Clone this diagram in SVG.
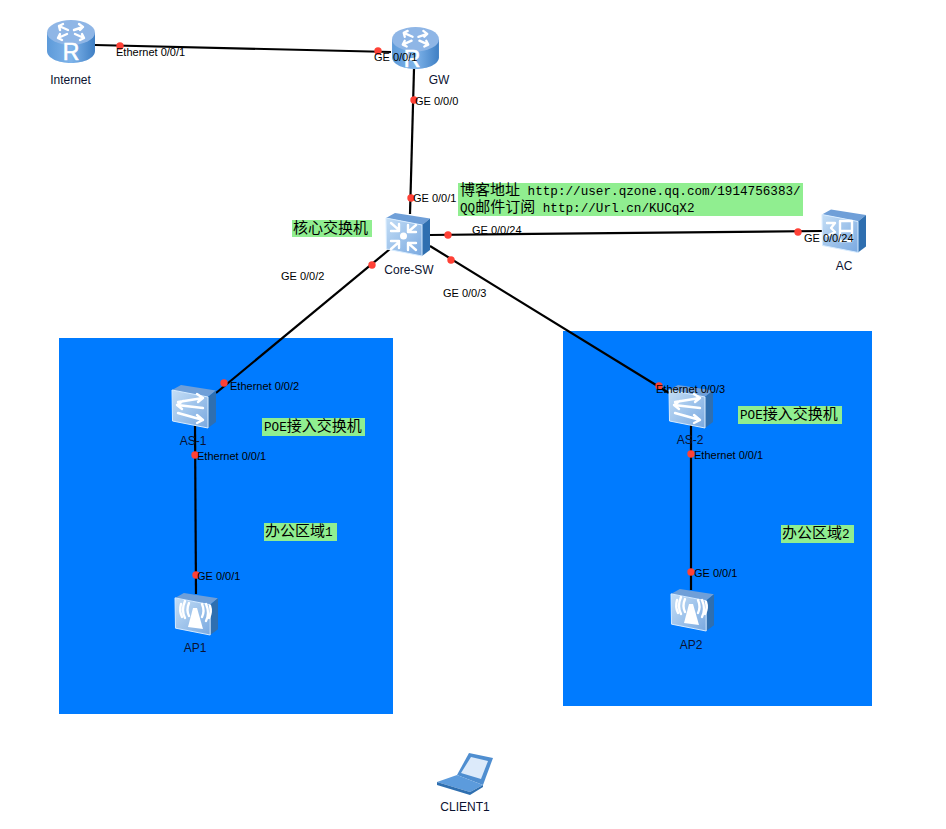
<svg xmlns="http://www.w3.org/2000/svg" width="946" height="829" viewBox="0 0 946 829">
<style>
.area{fill:#007bff}
.note{fill:#90ee90}
.lnk{stroke:#000;stroke-width:2.2;fill:none}
.dot{fill:#ff4136}
.port{font:11px "Liberation Sans",Arial,sans-serif;fill:#000}
.name{font:12px "Liberation Sans",Arial,sans-serif;fill:#0a1230;text-anchor:middle}
.cn{font:15px "Noto Sans CJK SC",sans-serif;fill:#000}
.mono{font:12.65px "Liberation Mono","Noto Sans CJK SC",monospace;fill:#000}
.gl{fill:none;stroke:#fff;stroke-width:2.4;stroke-linecap:round;stroke-linejoin:round}
.rt{font:23px "Liberation Sans",Arial,sans-serif;fill:#fff;text-anchor:middle;stroke:#fff;stroke-width:.6}
</style>
<defs>
<linearGradient id="cyl" x1="0" x2="1" y1="0" y2="0"><stop offset="0" stop-color="#5d9ad9"/><stop offset="0.5" stop-color="#7fb4ea"/><stop offset="1" stop-color="#3f7fc4"/></linearGradient>
<linearGradient id="face" x1="0" x2="1" y1="0" y2="1"><stop offset="0" stop-color="#c4def6"/><stop offset="1" stop-color="#7aa9e0"/></linearGradient>
<symbol id="router" viewBox="0 0 48 44" overflow="visible">
<path d="M0 13V31C0 38 11 43 24 43S48 38 48 31V13Z" fill="url(#cyl)"/>
<ellipse cx="24" cy="12.500" rx="24" ry="12.500" fill="#8fb6e6"/>
<path class="gl" d="M12 6l9 4M16 4l-4 2 1 4M36 7l-9 3M32 4l4 3-3 3M11 18l9-4M13 14l-2 4 4 2M37 18l-9-4M33 20l4-2-2-4"/>
</symbol>
<symbol id="box" viewBox="0 0 44 43" overflow="visible">
<path d="M0 5L9 0L44 5.500L36 12Z" fill="#6f9fd8"/>
<path d="M36 12L44 5.500V37L36 43Z" fill="#2f6fb0"/>
<path d="M0 5L36 12V43L.5 36Z" fill="url(#face)" stroke="#d8ecff" stroke-width="1"/>
</symbol>
</defs>
<g id="areas">
<rect class="area" x="59" y="338" width="334" height="376"/>
<rect class="area" x="563" y="331" width="309" height="375"/>
</g>
<g id="connectors">
<path class="lnk" d="M95 45L391 52"/>
<path class="lnk" d="M414 69L410 214"/>
<path class="lnk" d="M430 235L822 231"/>
<path class="lnk" d="M390 249L216 393"/>
<path class="lnk" d="M430 246L669 393"/>
<path class="lnk" d="M195 425L196 594"/>
<path class="lnk" d="M691 425V590"/>
</g>
<g id="node-internet"><use href="#router" x="47" y="20" width="48" height="44"/><text class="rt" x="71" y="60">R</text><text class="name" x="70.500" y="84">Internet</text></g>
<g id="node-gw"><use href="#router" x="391" y="27" width="49" height="43"/><text class="rt" x="412" y="67">R</text><text class="name" x="439" y="84">GW</text></g>
<g id="node-core"><use href="#box" x="386" y="213" width="44" height="43"/>
<circle cx="403.500" cy="236" r="3.500" fill="#fff"/><path class="gl" d="M391 223l8 7M391 231h8v-7M416 225l-8 7M408 225v7h8M391 249l8-7M391 241h8v7M416 250l-8-7M408 250v-7h8"/>
<text class="name" x="409" y="274">Core-SW</text></g>
<g id="node-ac"><use href="#box" x="822" y="209" width="44" height="44"/><path class="gl" d="M827 223h8l-4 5 4 4-8 4M840 221h12v20h-12ZM840 231h12"/><text class="name" x="844" y="270">AC</text></g>
<g id="node-as1"><use href="#box" x="172" y="385" width="44" height="43"/><path class="gl" d="M178 402l25-4M197 394l6 4-5 4M203 408l-26-3M183 401l-6 4 5 4M178 413l25 7M197 415l6 5-6 3"/><text class="name" x="193" y="445">AS-1</text></g>
<g id="node-as2"><use href="#box" x="669" y="385" width="44" height="43"/><path class="gl" d="M675 402l25-4M694 394l6 4-5 4M700 408l-26-3M680 401l-6 4 5 4M675 413l25 7M694 415l6 5-6 3"/><text class="name" x="690" y="444">AS-2</text></g>
<g id="node-ap1"><use href="#box" x="175" y="593" width="43" height="42"/><path d="M188 627L193 608L197 608L203 629Z" fill="#fff"/><path class="gl" d="M189 603q-3 7 0 13M185 601q-4 9 0 17M181 604q-2 7 1 13M202 604q3 7 0 13M206 604q4 9 0 17M210 606q2 6 -1 12" stroke-width="1.800"/><text class="name" x="195" y="652">AP1</text></g>
<g id="node-ap2"><use href="#box" x="671" y="589" width="43" height="42"/><path d="M684 623L689 604L693 604L699 625Z" fill="#fff"/><path class="gl" d="M685 599q-3 7 0 13M681 597q-4 9 0 17M677 600q-2 7 1 13M698 600q3 7 0 13M702 600q4 9 0 17M706 602q2 6 -1 12" stroke-width="1.800"/><text class="name" x="691" y="649">AP2</text></g>
<g id="node-client">
<path d="M457 775L469 753L493 758L483 785Z" fill="#4f8ed0"/>
<path d="M461 773L471 757L488 761L481 779Z" fill="#dceafa"/>
<path d="M437 782L457 775L483 785L470 792Z" fill="#5c9bdc"/>
<path d="M437 782V785L470 795L483 787V785L470 792Z" fill="#2f6fb0"/>
<text class="name" x="465" y="811">CLIENT1</text></g>
<g id="notes">
<rect class="note" x="458" y="183" width="345" height="33"/>
<text x="460" y="195"><tspan class="cn">博客地址</tspan><tspan class="mono"> http://user.qzone.qq.com/1914756383/</tspan></text>
<text x="460" y="212"><tspan class="mono">QQ</tspan><tspan class="cn">邮件订阅</tspan><tspan class="mono"> http://Url.cn/KUCqX2</tspan></text>
<rect class="note" x="292" y="220" width="80" height="17"/><text class="cn" x="293" y="233">核心交换机</text>
<rect class="note" x="262" y="418" width="103" height="18"/><text x="264" y="431"><tspan class="mono">POE</tspan><tspan class="cn">接入交换机</tspan></text>
<rect class="note" x="738" y="406" width="104" height="18"/><text x="740" y="419"><tspan class="mono">POE</tspan><tspan class="cn">接入交换机</tspan></text>
<rect class="note" x="264" y="523" width="73" height="18"/><text x="265" y="536"><tspan class="cn">办公区域</tspan><tspan class="mono">1</tspan></text>
<rect class="note" x="781" y="525" width="73" height="18"/><text x="782" y="538"><tspan class="cn">办公区域</tspan><tspan class="mono">2</tspan></text>
</g>
<g id="ports">
<g class="dot">
<circle cx="120" cy="46" r="3.700"/><circle cx="378" cy="51" r="3.700"/><circle cx="414" cy="100" r="3.700"/><circle cx="411" cy="198" r="3.700"/><circle cx="448" cy="235" r="3.700"/><circle cx="798" cy="232" r="3.700"/><circle cx="372" cy="265" r="3.700"/><circle cx="451" cy="260" r="3.700"/><circle cx="224" cy="383" r="3.700"/><circle cx="659" cy="386" r="3.700"/><circle cx="195" cy="455" r="3.700"/><circle cx="691" cy="454" r="3.700"/><circle cx="196" cy="575" r="3.700"/><circle cx="691" cy="572" r="3.700"/>
</g>
<text class="port" x="116" y="56">Ethernet 0/0/1</text>
<text class="port" x="374" y="61">GE 0/0/1</text>
<text class="port" x="415" y="105">GE 0/0/0</text>
<text class="port" x="413" y="202">GE 0/0/1</text>
<text class="port" x="472" y="234">GE 0/0/24</text>
<text class="port" x="804" y="242">GE 0/0/24</text>
<text class="port" x="281" y="280">GE 0/0/2</text>
<text class="port" x="443" y="297">GE 0/0/3</text>
<text class="port" x="230" y="390">Ethernet 0/0/2</text>
<text class="port" x="656" y="393">Ethernet 0/0/3</text>
<text class="port" x="197" y="460">Ethernet 0/0/1</text>
<text class="port" x="694" y="459">Ethernet 0/0/1</text>
<text class="port" x="197" y="580">GE 0/0/1</text>
<text class="port" x="694" y="577">GE 0/0/1</text>
</g>
</svg>
